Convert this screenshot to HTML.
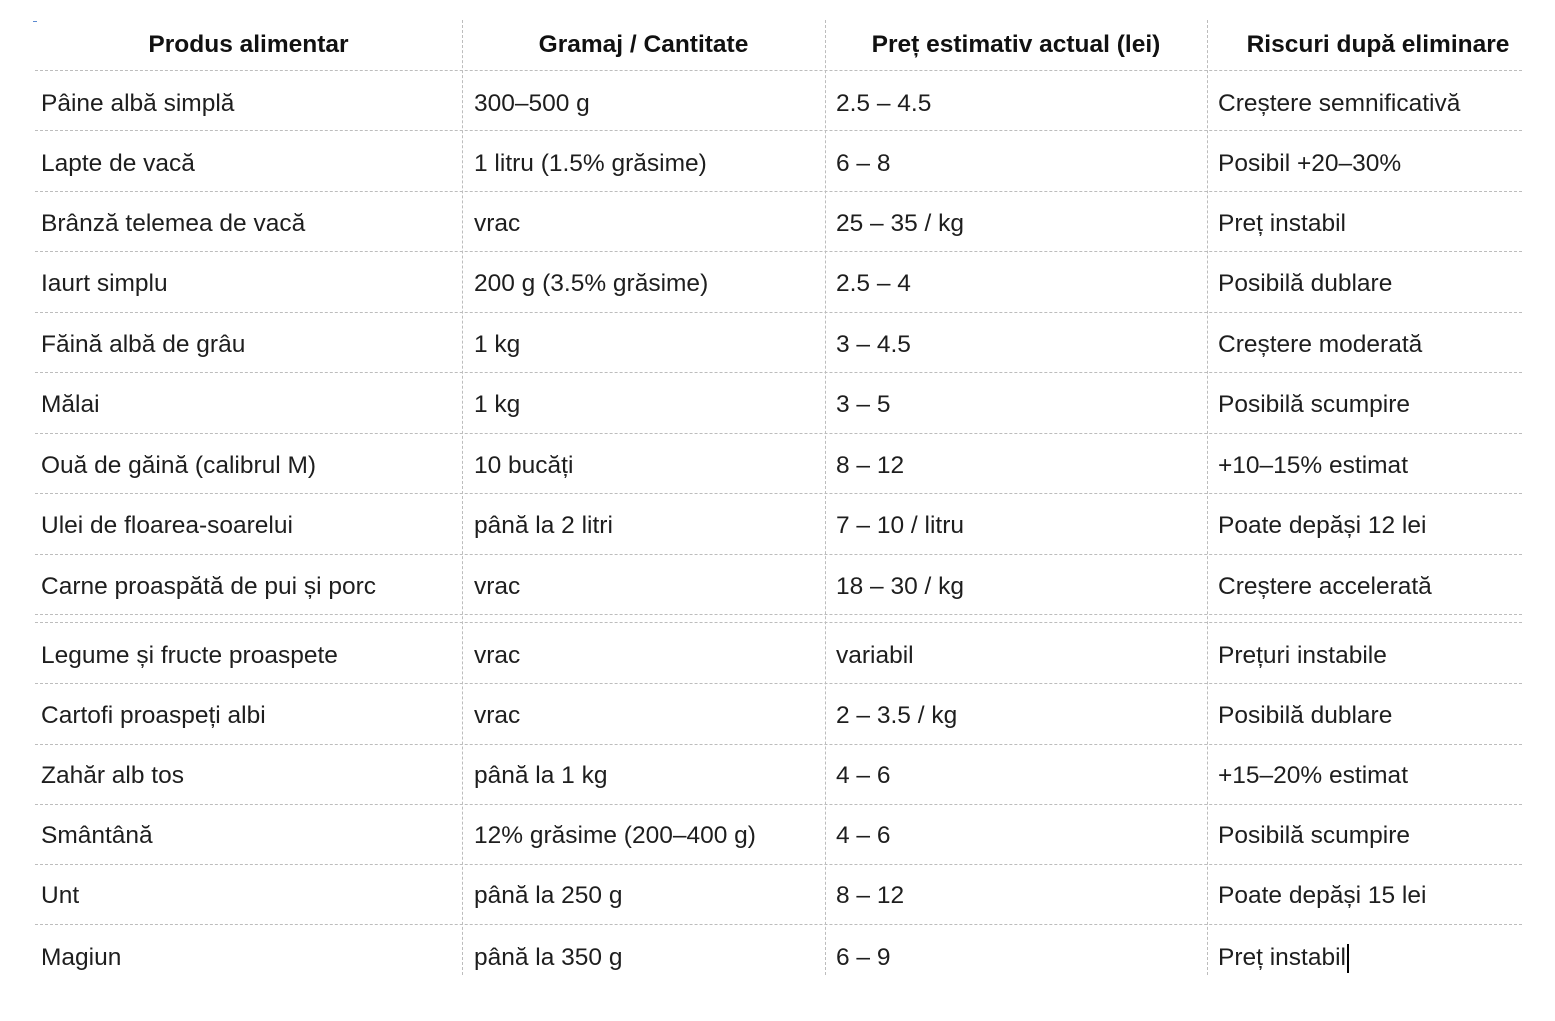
<!DOCTYPE html>
<html><head><meta charset="utf-8"><style>
body{margin:0;width:1555px;height:1021px;background:#fff;position:relative;overflow:hidden;font-family:"Liberation Sans",sans-serif;color:#1e1e1e}
.h{position:absolute;left:35px;width:1487px;border-top:1px dashed #bdbdbd;height:0}
.v{position:absolute;top:20px;height:955px;border-left:1px dashed #bdbdbd;width:0}
.t{position:absolute;font-size:24.5px;line-height:30px;white-space:nowrap;transform:translateY(-50%)}
.hd{position:absolute;font-size:24.5px;font-weight:bold;line-height:30px;top:30px;text-align:center;color:#111}
.cur{display:inline-block;width:2px;height:29px;background:#000;vertical-align:middle;margin-left:1px}
</style></head><body>
<div style="position:absolute;left:33px;top:21px;width:4px;height:1px;background:#5b8ad0"></div>
<div class="v" style="left:462px"></div>
<div class="v" style="left:825px"></div>
<div class="v" style="left:1207px"></div>
<div class="hd" style="left:35px;width:427px">Produs alimentar</div>
<div class="hd" style="left:462px;width:363px">Gramaj / Cantitate</div>
<div class="hd" style="left:825px;width:382px">Preț estimativ actual (lei)</div>
<div class="hd" style="left:1207px;width:342px">Riscuri după eliminare</div>
<div id="c"></div>
<script>
var lines=[70,130,191,251,312,372,433,493,554,614,622,683,744,804,864,924];
var h='';lines.forEach(function(y){h+='<div class="h" style="top:'+y+'px"></div>'});
var rows=[
[104,"Pâine albă simplă","300–500 g","2.5 – 4.5","Creștere semnificativă"],
[164,"Lapte de vacă","1 litru (1.5% grăsime)","6 – 8","Posibil +20–30%"],
[224,"Brânză telemea de vacă","vrac","25 – 35 / kg","Preț instabil"],
[284,"Iaurt simplu","200 g (3.5% grăsime)","2.5 – 4","Posibilă dublare"],
[345,"Făină albă de grâu","1 kg","3 – 4.5","Creștere moderată"],
[405,"Mălai","1 kg","3 – 5","Posibilă scumpire"],
[466,"Ouă de găină (calibrul M)","10 bucăți","8 – 12","+10–15% estimat"],
[526,"Ulei de floarea-soarelui","până la 2 litri","7 – 10 / litru","Poate depăși 12 lei"],
[587,"Carne proaspătă de pui și porc","vrac","18 – 30 / kg","Creștere accelerată"],
[656,"Legume și fructe proaspete","vrac","variabil","Prețuri instabile"],
[716,"Cartofi proaspeți albi","vrac","2 – 3.5 / kg","Posibilă dublare"],
[776,"Zahăr alb tos","până la 1 kg","4 – 6","+15–20% estimat"],
[836,"Smântână","12% grăsime (200–400 g)","4 – 6","Posibilă scumpire"],
[896,"Unt","până la 250 g","8 – 12","Poate depăși 15 lei"],
[958,"Magiun","până la 350 g","6 – 9","Preț instabil<span class=\"cur\"></span>"]];
var xs=[41,474,836,1218];
rows.forEach(function(r){for(var i=0;i<4;i++)h+='<div class="t" style="left:'+xs[i]+'px;top:'+r[0]+'px">'+r[i+1]+'</div>'});
document.getElementById('c').innerHTML=h;
</script>
</body></html>
